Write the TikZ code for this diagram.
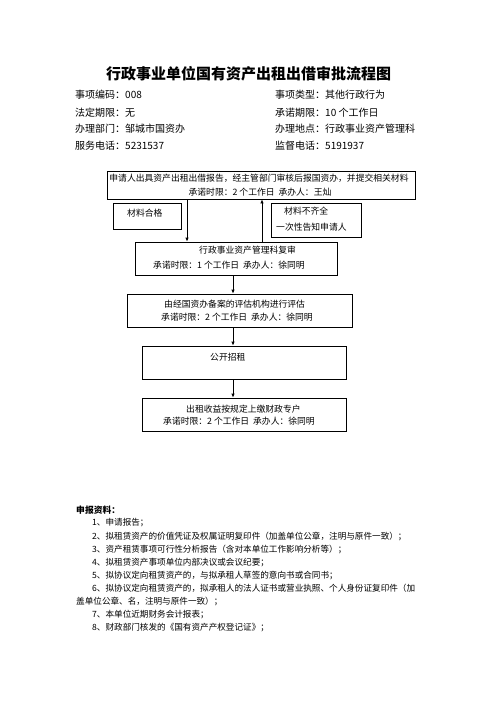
\documentclass[tikz,border=0pt]{standalone}
\usepackage{fontspec}
\setmainfont{Noto Sans CJK SC}
\usetikzlibrary{arrows.meta}
\begin{document}
\begin{tikzpicture}[x=1pt,y=-1pt,
  box/.style={draw, line width=0.8pt, inner sep=0pt},
  txt/.style={anchor=west, inner sep=0pt, font=\fontsize{8.8pt}{11pt}\selectfont},
  info/.style={anchor=west, inner sep=0pt, font=\fontsize{10pt}{12pt}\selectfont},
  lst/.style={anchor=west, inner sep=0pt, font=\fontsize{8.6pt}{11pt}\selectfont},
  arr/.style={line width=0.8pt, -{Latex[length=4pt,width=3.5pt]}}]
\useasboundingbox (0,0) rectangle (496,702);
\fill[white] (0,0) rectangle (496,702);

% title
\node[inner sep=0pt, font=\fontsize{15pt}{18pt}\selectfont\bfseries] (title) at (248.5,74) {行政事业单位国有资产出租出借审批流程图};

% info
\node[info] (i1) at (75,95) {事项编码：008};
\node[info] (i2) at (75,112.5) {法定期限：无};
\node[info] (i3) at (75,129) {办理部门：邹城市国资办};
\node[info] (i4) at (75,145.5) {服务电话：5231537};
\node[info] (j1) at (275,95) {事项类型：其他行政行为};
\node[info] (j2) at (275,112.5) {承诺期限：10 个工作日};
\node[info] (j3) at (275,129) {办理地点：行政事业资产管理科};
\node[info] (j4) at (275,145.5) {监督电话：5191937};

% boxes
\node[box, minimum width=308pt, minimum height=28pt] (b1) at (261,185) {};
\node[box, minimum width=68pt, minimum height=26pt] (m1) at (147,216) {};
\node[box, minimum width=90pt, minimum height=34pt] (m2) at (316,220) {};
\node[box, minimum width=202pt, minimum height=33pt] (b2) at (236,258.5) {};
\node[box, minimum width=225pt, minimum height=33pt] (b3) at (239.5,310.5) {};
\node[box, minimum width=204pt, minimum height=33pt] (b4) at (244,362.5) {};
\node[box, minimum width=204pt, minimum height=33pt] (b5) at (244,414.5) {};

% box texts
\node[txt, anchor=center] (t1a) at (259,178) {申请人出具资产出租出借报告，经主管部门审核后报国资办，并提交相关材料};
\node[txt, anchor=center] (t1b) at (260,192) {承诺时限：2 个工作日\ \ 承办人：王灿};
\node[txt] (tm1) at (127,213) {材料合格};
\node[txt] (tm2a) at (284,211) {材料不齐全};
\node[txt] (tm2b) at (276,227) {一次性告知申请人};
\node[txt] (t2a) at (199,250) {行政事业资产管理科复审};
\node[txt] (t2b) at (153,265) {承诺时限：1 个工作日\ \ 承办人：徐同明};
\node[txt] (t3a) at (164,304) {由经国资办备案的评估机构进行评估};
\node[txt] (t3b) at (161,317) {承诺时限：2 个工作日\ \ 承办人：徐同明};
\node[txt] (t4) at (210,357) {公开招租};
\node[txt] (t5a) at (186,409) {出租收益按规定上缴财政专户};
\node[txt] (t5b) at (163,421) {承诺时限：2 个工作日\ \ 承办人：徐同明};

% connectors
\coordinate (xd) at (187,0);
\coordinate (xu) at (262,0);
\coordinate (xm) at (233,0);
\draw[arr] (b1.south -| xd) -- (b2.north -| xd);
\draw[arr] (b2.north -| xu) -- (b1.south -| xu);
\draw[arr] (b2.south -| xm) -- (b3.north -| xm);
\draw[arr] (b3.south -| xm) -- (b4.north -| xm);
\draw[arr] (b4.south -| xm) -- (b5.north -| xm);

% list
\node[lst, font=\fontsize{8.8pt}{11pt}\selectfont\bfseries] (sh) at (76,510.5) {申报资料：};
\node[lst] (l1) at (92,523) {1、申请报告；};
\node[lst] (l2) at (92,536.5) {2、拟租赁资产的价值凭证及权属证明复印件（加盖单位公章，注明与原件一致）；};
\node[lst] (l3) at (92,549.5) {3、资产租赁事项可行性分析报告（含对本单位工作影响分析等）；};
\node[lst] (l4) at (92,562.5) {4、拟租赁资产事项单位内部决议或会议纪要；};
\node[lst] (l5) at (92,575.5) {5、拟协议定向租赁资产的，与拟承租人草签的意向书或合同书；};
\node[lst] (l6) at (92,588.5) {6、拟协议定向租赁资产的，拟承租人的法人证书或营业执照、个人身份证复印件（加};
\node[lst] (l6b) at (76,601.5) {盖单位公章、名，注明与原件一致）；};
\node[lst] (l7) at (92,614.5) {7、本单位近期财务会计报表；};
\node[lst] (l8) at (92,627.5) {8、财政部门核发的《国有资产产权登记证》；};
\end{tikzpicture}
\end{document}
